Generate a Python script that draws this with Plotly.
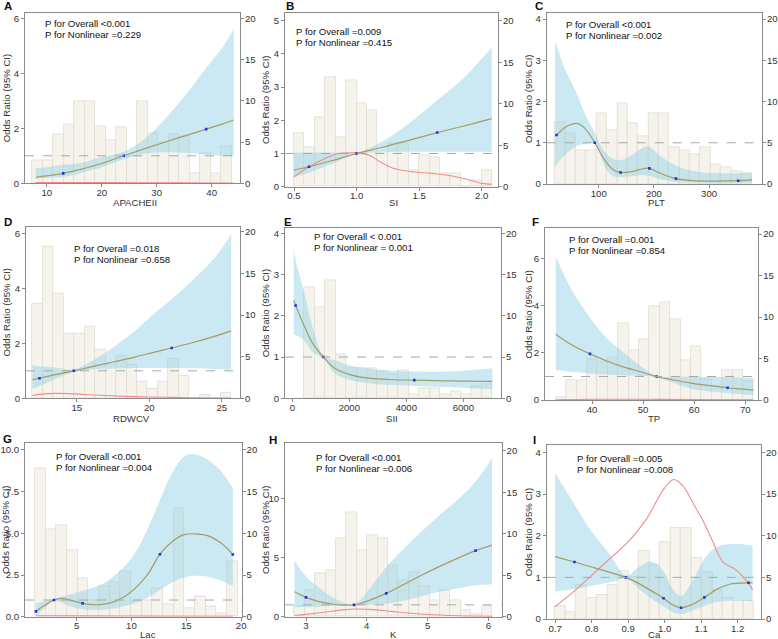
import plotly.graph_objects as go

# ======================= DATA =======================
# A: APACHEII
apache_x = [8, 10, 13, 16, 20, 24, 28, 32, 36, 39, 42, 44]
apache_or = [0.22, 0.27, 0.36, 0.5, 0.72, 1.0, 1.27, 1.53, 1.78, 1.97, 2.16, 2.3]
apache_lo = [0.16, 0.19, 0.24, 0.36, 0.58, 0.87, 1.08, 1.13, 1.1, 1.05, 1.0, 0.97]
apache_hi = [0.55, 0.58, 0.67, 0.73, 0.95, 1.15, 1.65, 2.45, 3.4, 4.2, 4.95, 5.6]
apache_red_x = [8, 14, 20, 26, 32, 38, 44]
apache_red_y = [0.03, 0.03, 0.03, 0.02, 0.02, 0.01, 0.01]
apache_pts_x = [13, 24, 39]
apache_pts_y = [0.36, 1.0, 1.97]
apache_bin_start, apache_bin_width = 7.4, 1.906
apache_counts = [2.75, 2.75, 5.9, 7.2, 9.9, 9.9, 6.9, 5.2, 6.8, 3.3, 9.9, 6.0, 5.0, 5.9, 5.7, 1.2, 3.6, 1.2, 4.5]

# B: SI
si_x = [0.5, 0.62, 0.8, 1.0, 1.2, 1.4, 1.644, 1.85, 2.08]
si_or = [0.5, 0.6, 0.78, 1.0, 1.18, 1.38, 1.63, 1.82, 2.05]
si_lo = [0.28, 0.42, 0.68, 0.99, 1.04, 1.05, 1.05, 1.05, 1.05]
si_hi = [1.03, 1.03, 1.03, 1.02, 1.35, 1.85, 2.6, 3.25, 4.2]
si_red_x = [0.5, 0.62, 0.75, 0.85, 0.95, 1.0, 1.1, 1.2, 1.3, 1.45, 1.6, 1.75, 1.9, 2.0, 2.08]
si_red_y = [0.3, 0.6, 0.85, 1.0, 1.02, 1.02, 0.95, 0.72, 0.55, 0.45, 0.4, 0.33, 0.2, 0.1, 0.07]
si_pts_x = [0.62, 1.0, 1.644]
si_pts_y = [0.6, 1.0, 1.63]
si_bin_start, si_bin_width = 0.5, 0.0833
si_counts = [6.4, 4.8, 8.4, 13.2, 6.0, 12.8, 10.0, 9.2, 4.0, 5.2, 5.2, 2.0, 3.8, 3.6, 1.6, 1.6, 0, 0.8, 2.0]

# C: PLT
plt_x = [20.7, 23.7, 40, 60, 75, 92.8, 110, 125, 139.6, 160, 180, 191.9, 210, 240, 270, 300, 352.9, 378]
plt_or = [1.17, 1.19, 1.38, 1.47, 1.35, 1.0, 0.6, 0.36, 0.28, 0.3, 0.37, 0.38, 0.27, 0.13, 0.08, 0.07, 0.08, 0.1]
plt_lo = [0.42, 0.48, 0.72, 0.92, 0.97, 0.97, 0.45, 0.2, 0.17, 0.19, 0.21, 0.2, 0.12, 0.05, 0.03, 0.02, 0.02, 0.03]
plt_hi = [3.45, 3.35, 2.75, 2.2, 1.7, 1.25, 0.8, 0.62, 0.58, 0.7, 0.88, 0.9, 0.7, 0.45, 0.32, 0.27, 0.26, 0.27]
plt_pts_x = [23.7, 92.8, 139.6, 191.9, 240, 352.9]
plt_pts_y = [1.19, 1.0, 0.28, 0.38, 0.13, 0.08]
plt_bin_start, plt_bin_width = 20.7, 18.8
plt_counts = [7.45, 6.15, 4.05, 4.05, 8.55, 6.55, 9.8, 7.35, 5.75, 8.55, 8.55, 4.5, 4.1, 3.65, 4.5, 2.45, 2.0, 1.6, 1.25]

# D: RDWCV
rdw_x = [11.94, 12.43, 13.5, 14.8, 16, 17.5, 19, 20.5, 21.55, 23, 24.5, 25.65]
rdw_or = [0.68, 0.73, 0.86, 1.0, 1.14, 1.32, 1.5, 1.7, 1.83, 2.03, 2.25, 2.45]
rdw_lo = [0.36, 0.45, 0.7, 0.96, 1.05, 1.08, 1.1, 1.1, 1.1, 1.09, 1.07, 1.05]
rdw_hi = [1.2, 1.17, 1.12, 1.05, 1.35, 1.85, 2.45, 3.15, 3.6, 4.3, 5.1, 5.97]
rdw_red_x = [11.94, 12.8, 13.5, 14.5, 15.5, 17, 19, 21, 23, 25.65]
rdw_red_y = [0.1, 0.16, 0.18, 0.17, 0.14, 0.1, 0.06, 0.04, 0.02, 0.01]
rdw_pts_x = [12.43, 14.8, 21.55]
rdw_pts_y = [0.73, 1.0, 1.83]
rdw_bin_start, rdw_bin_width = 11.94, 0.7216
rdw_counts = [11.4, 18.2, 12.5, 7.8, 7.8, 8.6, 5.8, 4.0, 5.1, 4.0, 2.0, 1.2, 2.0, 4.7, 2.7, 0, 0.4, 0, 0.7]

# E: SII
sii_x = [47, 117, 400, 700, 1088, 1500, 2000, 2500, 3000, 3600, 4281, 5500, 7018]
sii_or = [2.38, 2.25, 1.78, 1.35, 1.0, 0.72, 0.58, 0.5, 0.47, 0.45, 0.44, 0.42, 0.41]
sii_lo = [1.55, 1.53, 1.42, 1.13, 0.97, 0.6, 0.45, 0.38, 0.34, 0.32, 0.3, 0.27, 0.22]
sii_hi = [3.65, 3.35, 2.6, 1.75, 1.04, 0.92, 0.8, 0.74, 0.7, 0.67, 0.65, 0.65, 0.73]
sii_pts_x = [117, 1088, 4281]
sii_pts_y = [2.25, 1.0, 0.44]
sii_bin_start, sii_bin_width = 421, 366.5
sii_counts = [13.5, 11.0, 14.35, 5.35, 3.65, 3.65, 3.65, 3.25, 2.85, 3.35, 0.5, 1.25, 1.25, 0.5, 0.85, 0.5, 1.4, 1.65]

# F: TP
tp_x = [32.9, 36, 39.6, 43, 46, 49.5, 52.65, 56, 60, 63.5, 66.55, 69, 71.6]
tp_or = [2.8, 2.35, 1.96, 1.65, 1.42, 1.2, 1.0, 0.85, 0.7, 0.6, 0.52, 0.47, 0.42]
tp_lo = [1.28, 1.2, 1.13, 1.08, 1.05, 1.02, 0.98, 0.72, 0.45, 0.36, 0.3, 0.25, 0.2]
tp_hi = [6.1, 4.7, 3.5, 2.6, 2.05, 1.45, 1.02, 0.99, 0.99, 0.98, 0.97, 0.96, 0.95]
tp_red_x = [32.9, 40, 50, 60, 71.6]
tp_red_y = [0.01, 0.03, 0.03, 0.02, 0.01]
tp_pts_x = [39.6, 52.65, 66.55]
tp_pts_y = [1.96, 1.0, 0.52]
tp_bin_start, tp_bin_width = 32.9, 2.037
tp_counts = [0.3, 2.4, 2.4, 4.95, 4.5, 5.2, 9.25, 6.0, 7.3, 11.35, 11.75, 9.7, 4.8, 6.5, 2.5, 1.7, 3.6, 3.6, 2.3]

# G: Lac
lac_x = [1.3, 2.1, 2.94, 3.6, 4.5, 5.55, 6.5, 7.5, 8.5, 9.5, 10.5, 11.5, 12.6, 13.7, 14.8, 15.8, 17, 18.2, 19.24]
lac_or = [0.32, 0.68, 1.0, 1.1, 0.98, 0.8, 0.72, 0.75, 0.92, 1.25, 1.8, 2.55, 3.75, 4.5, 4.92, 4.97, 4.85, 4.4, 3.73]
lac_lo = [0.05, 0.5, 0.95, 0.85, 0.6, 0.45, 0.4, 0.42, 0.5, 0.65, 0.85, 1.15, 1.6, 2.05, 2.35, 2.45, 2.4, 2.15, 1.85]
lac_hi = [0.8, 0.92, 1.05, 1.2, 1.35, 1.55, 1.75, 2.0, 2.5, 3.1, 4.0, 5.3, 7.0, 8.6, 9.6, 9.75, 9.4, 8.7, 7.7]
lac_red_x = [1.3, 5, 10, 15, 19.24]
lac_red_y = [0.06, 0.05, 0.04, 0.03, 0.03]
lac_pts_x = [1.3, 2.94, 5.55, 12.6, 19.24]
lac_pts_y = [0.32, 1.0, 0.8, 3.75, 3.73]
lac_bin_start, lac_bin_width = 1.21, 0.973
lac_counts = [17.8, 10.5, 11.0, 8.0, 4.6, 2.0, 3.6, 4.1, 5.4, 1.8, 2.0, 3.4, 1.5, 13.0, 1.0, 2.4, 1.2, 0.4, 6.6]

# H: K
k_x = [2.81, 3.0, 3.2, 3.45, 3.79, 4.05, 4.32, 4.6, 4.9, 5.2, 5.5, 5.79, 6.06]
k_or = [2.1, 1.63, 1.3, 1.05, 1.0, 1.4, 1.97, 2.7, 3.5, 4.25, 4.95, 5.58, 6.05]
k_lo = [0.8, 0.82, 0.85, 0.9, 0.97, 1.02, 1.1, 1.35, 1.75, 2.1, 2.4, 2.65, 2.75]
k_hi = [4.75, 3.4, 2.5, 1.6, 1.05, 2.4, 4.2, 5.7, 7.2, 8.6, 9.9, 11.4, 13.4]
k_red_x = [2.81, 3.0, 3.3, 3.6, 3.85, 4.1, 4.4, 4.7, 5.0, 5.5, 6.06]
k_red_y = [0.1, 0.2, 0.38, 0.58, 0.65, 0.6, 0.45, 0.3, 0.18, 0.08, 0.03]
k_pts_x = [3.0, 3.79, 4.32, 5.79]
k_pts_y = [1.63, 1.0, 1.97, 5.58]
k_bin_start, k_bin_width = 2.81, 0.171
k_counts = [1.2, 3.2, 5.2, 5.6, 9.45, 12.6, 8.0, 9.8, 9.45, 6.2, 4.4, 5.35, 3.7, 2.0, 3.2, 2.0, 0.8, 0.3, 1.2]

# I: Ca
ca_x = [0.7, 0.753, 0.8, 0.85, 0.894, 0.93, 0.965, 0.997, 1.02, 1.045, 1.075, 1.109, 1.14, 1.18, 1.23, 1.241]
ca_or = [1.5, 1.37, 1.25, 1.12, 1.0, 0.85, 0.67, 0.5, 0.35, 0.27, 0.35, 0.52, 0.7, 0.84, 0.87, 0.87]
ca_lo = [0.66, 0.72, 0.8, 0.88, 0.97, 0.72, 0.48, 0.3, 0.18, 0.12, 0.2, 0.32, 0.4, 0.44, 0.43, 0.42]
ca_hi = [3.5, 2.75, 2.1, 1.55, 1.05, 1.25, 1.38, 1.15, 0.75, 0.55, 0.9, 1.45, 1.72, 1.8, 1.78, 1.75]
ca_red_x = [0.7, 0.75, 0.8, 0.85, 0.9, 0.95, 1.0, 1.025, 1.05, 1.08, 1.104, 1.13, 1.159, 1.195, 1.226, 1.241]
ca_red_y = [0.3, 0.65, 1.05, 1.45, 1.85, 2.4, 3.15, 3.35, 3.2, 2.75, 2.38, 1.9, 1.38, 1.18, 0.9, 0.7]
ca_pts_x = [0.753, 0.894, 0.997, 1.045, 1.109, 1.23]
ca_pts_y = [1.37, 1.0, 0.5, 0.27, 0.52, 0.87]
ca_bin_start, ca_bin_width = 0.7, 0.0287
ca_counts = [1.6, 0.8, 4.1, 2.5, 2.9, 4.1, 5.8, 5.0, 8.2, 6.5, 9.3, 10.9, 10.9, 7.3, 5.6, 3.5, 2.5, 2.2, 2.2]

letters = ["A", "B", "C", "D", "E", "F", "G", "H", "I"]
x_titles = ["APACHEII", "SI", "PLT", "RDWCV", "SII", "TP", "Lac", "K", "Ca"]
p_overall = ["P for Overall <0.001", "P for Overall =0.009", "P for Overall <0.001",
             "P for Overall =0.018", "P for Overall < 0.001", "P for Overall =0.001",
             "P for Overall <0.001", "P for Overall <0.001", "P for Overall =0.005"]
p_nonlinear = ["P for Nonlinear =0.229", "P for Nonlinear =0.415", "P for Nonlinear =0.002",
               "P for Nonlinear =0.658", "P for Nonlinear = 0.001", "P for Nonlinear =0.854",
               "P for Nonlinear =0.004", "P for Nonlinear =0.006", "P for Nonlinear =0.008"]
count_ticks = [0, 5, 10, 15, 20]

panels = [
    dict(x=apache_x, orv=apache_or, lo=apache_lo, hi=apache_hi, rx=apache_red_x, ry=apache_red_y,
         px=apache_pts_x, py=apache_pts_y, bs=apache_bin_start, bw=apache_bin_width, c=apache_counts),
    dict(x=si_x, orv=si_or, lo=si_lo, hi=si_hi, rx=si_red_x, ry=si_red_y,
         px=si_pts_x, py=si_pts_y, bs=si_bin_start, bw=si_bin_width, c=si_counts),
    dict(x=plt_x, orv=plt_or, lo=plt_lo, hi=plt_hi, rx=None, ry=None,
         px=plt_pts_x, py=plt_pts_y, bs=plt_bin_start, bw=plt_bin_width, c=plt_counts),
    dict(x=rdw_x, orv=rdw_or, lo=rdw_lo, hi=rdw_hi, rx=rdw_red_x, ry=rdw_red_y,
         px=rdw_pts_x, py=rdw_pts_y, bs=rdw_bin_start, bw=rdw_bin_width, c=rdw_counts),
    dict(x=sii_x, orv=sii_or, lo=sii_lo, hi=sii_hi, rx=None, ry=None,
         px=sii_pts_x, py=sii_pts_y, bs=sii_bin_start, bw=sii_bin_width, c=sii_counts),
    dict(x=tp_x, orv=tp_or, lo=tp_lo, hi=tp_hi, rx=tp_red_x, ry=tp_red_y,
         px=tp_pts_x, py=tp_pts_y, bs=tp_bin_start, bw=tp_bin_width, c=tp_counts),
    dict(x=lac_x, orv=lac_or, lo=lac_lo, hi=lac_hi, rx=lac_red_x, ry=lac_red_y,
         px=lac_pts_x, py=lac_pts_y, bs=lac_bin_start, bw=lac_bin_width, c=lac_counts),
    dict(x=k_x, orv=k_or, lo=k_lo, hi=k_hi, rx=k_red_x, ry=k_red_y,
         px=k_pts_x, py=k_pts_y, bs=k_bin_start, bw=k_bin_width, c=k_counts),
    dict(x=ca_x, orv=ca_or, lo=ca_lo, hi=ca_hi, rx=ca_red_x, ry=ca_red_y,
         px=ca_pts_x, py=ca_pts_y, bs=ca_bin_start, bw=ca_bin_width, c=ca_counts),
]

# ======================= STYLE / LAYOUT =======================
W, H = 778, 639
FONT = "Liberation Sans, Arial, sans-serif"
AXC = "#8a8a8a"
TXT = "#333333"
FS = 9.6

# plot boxes in px: left, top, right, bottom
boxes = [(25, 13.3, 240, 183.3), (285, 13.3, 498, 186.7), (546.7, 13.3, 762, 184),
         (26, 226.7, 240, 398.3), (285, 228.3, 501, 398.3), (545, 228.3, 758.3, 400),
         (25, 443.3, 241.7, 616.7), (285, 443.3, 501.7, 616.7), (546.7, 445, 761, 619)]
x_ranges = [[6.05, 45.15], [0.428, 2.13], [5.7, 396], [11.5, 26.26], [-257, 7322],
            [30.8, 72.55], [0.3, 20.05], [2.654, 6.22], [0.677, 1.264]]
x_ticks = [[10, 20, 30, 40], [0.5, 1.0, 1.5, 2.0], [100, 200, 300], [15, 20, 25],
           [0, 2000, 4000, 6000], [40, 50, 60, 70], [5, 10, 15, 20], [3, 4, 5, 6],
           [0.7, 0.8, 0.9, 1.0, 1.1, 1.2]]
x_fmt = ["", ".1f", "", "", "", "", "", "", ".1f"]
left_top = [6.18, 5.22, 4.14, 6.24, 4.12, 7.3, 10.4, 14.65, 4.18]
left_ticks = [[0, 2, 4, 6], [0, 1, 2, 3, 4, 5], [0, 1, 2, 3, 4], [0, 2, 4, 6], [0, 1, 2, 3, 4],
              [0, 2, 4, 6], [0, 2.5, 5, 7.5, 10], [0, 5, 10], [0, 1, 2, 3, 4]]
left_fmt = ["", "", "", "", "", "", ".1f", "", ""]
right_top = [20.6, 20.88, 20.7, 20.6, 20.6, 20.7, 20.8, 20.9, 20.9]
letter_pos = [(7.5, 6), (290, 6.3), (539, 6), (7.5, 222), (287.7, 222), (535, 222),
              (7.5, 439), (272.5, 439.5), (534.3, 439.5)]
ptext_pos = [(43.3, 24), (294.3, 31.7), (564, 24.3), (71.7, 248.3), (312.3, 236.7),
             (567.3, 239.3), (54.3, 456.7), (314.3, 457.3), (575, 458.3)]
ytitle_x = [6, 265, 528.3, 6, 265, 528.3, 5, 265, 528.3]
xtitle_pos = [(135, 202), (393, 202), (656.7, 202), (131.7, 418.5), (391.7, 418.5),
              (654, 418.5), (148, 634.5), (393.3, 634.5), (654, 634.5)]

fig = go.Figure()
layout = dict(width=W, height=H, margin=dict(l=0, r=0, t=0, b=0),
              paper_bgcolor="white", plot_bgcolor="white", showlegend=False,
              font=dict(family=FONT, size=FS, color=TXT), bargap=0)
annotations = []
shapes = []

for i, p in enumerate(panels):
    n = i + 1
    xa = "x" if n == 1 else f"x{n}"
    xkey = "xaxis" if n == 1 else f"xaxis{n}"
    yb = 2 * i + 1
    yl = 2 * i + 2
    ybn = "y" if yb == 1 else f"y{yb}"
    ybkey = "yaxis" if yb == 1 else f"yaxis{yb}"
    yln = f"y{yl}"
    ylkey = f"yaxis{yl}"

    centers = [p["bs"] + p["bw"] * (k + 0.5) for k in range(len(p["c"]))]
    fig.add_trace(go.Bar(x=centers, y=p["c"], width=p["bw"], xaxis=xa, yaxis=ybn,
                         marker=dict(color="#F5F3EC", line=dict(color="#E0DCCF", width=0.8)),
                         hoverinfo="skip"))
    fig.add_trace(go.Scatter(x=p["x"], y=p["lo"], mode="lines", xaxis=xa, yaxis=yln,
                             line=dict(width=0, shape="spline", color="rgba(0,0,0,0)"),
                             hoverinfo="skip"))
    fig.add_trace(go.Scatter(x=p["x"], y=p["hi"], mode="lines", xaxis=xa, yaxis=yln,
                             line=dict(width=0, shape="spline", color="rgba(0,0,0,0)"),
                             fill="tonexty", fillcolor="rgba(145,208,228,0.48)",
                             hoverinfo="skip"))
    if p["rx"] is not None:
        fig.add_trace(go.Scatter(x=p["rx"], y=p["ry"], mode="lines", xaxis=xa, yaxis=yln,
                                 line=dict(width=1.1, shape="spline", color="#F28C8C")))
    fig.add_trace(go.Scatter(x=p["x"], y=p["orv"], mode="lines", xaxis=xa, yaxis=yln,
                             line=dict(width=1.2, shape="spline", color="#A69C66")))
    fig.add_trace(go.Scatter(x=p["px"], y=p["py"], mode="markers", xaxis=xa, yaxis=yln,
                             marker=dict(symbol="square", size=2.6, color="#2035E0")))

    L, T, R, B = boxes[i]
    common = dict(showgrid=False, zeroline=False, showline=True, linecolor=AXC, linewidth=1,
                  ticks="outside", ticklen=3, tickcolor=AXC, tickwidth=1, automargin=False,
                  tickfont=dict(size=FS, color=TXT, family=FONT))
    layout[xkey] = dict(common, domain=[L / W, R / W], range=x_ranges[i], anchor=ybn,
                        tickmode="array", tickvals=x_ticks[i], tickformat=x_fmt[i], mirror=True,
                        ticklabelstandoff=-3)
    layout[ybkey] = dict(common, domain=[1 - B / H, 1 - T / H], range=[0, right_top[i]],
                         anchor=xa, side="right", tickmode="array", tickvals=count_ticks,
                         ticklabelstandoff=-1)
    layout[ylkey] = dict(common, overlaying=ybn, anchor=xa, side="left",
                         range=[0, left_top[i]], tickmode="array", tickvals=left_ticks[i],
                         tickformat=left_fmt[i])

    shapes.append(dict(type="line", xref=f"{xa} domain", x0=0, x1=1, yref=yln, y0=1, y1=1,
                       line=dict(color="#A8A8A8", width=1, dash="dash"), layer="above"))

    lx, ly = letter_pos[i]
    annotations.append(dict(text=f"<b>{letters[i]}</b>", x=lx / W, y=1 - ly / H, xref="paper",
                            yref="paper", showarrow=False, xanchor="center", yanchor="middle",
                            font=dict(size=11.5, color="#111111", family=FONT)))
    tx, ty = ptext_pos[i]
    annotations.append(dict(text=p_overall[i], x=tx / W, y=1 - ty / H, xref="paper", yref="paper",
                            showarrow=False, xanchor="left", yanchor="middle",
                            font=dict(size=FS, color="#111111", family=FONT)))
    annotations.append(dict(text=p_nonlinear[i], x=tx / W, y=1 - (ty + 10.7) / H, xref="paper",
                            yref="paper", showarrow=False, xanchor="left", yanchor="middle",
                            font=dict(size=FS, color="#111111", family=FONT)))
    xtx, xty = xtitle_pos[i]
    annotations.append(dict(text=x_titles[i], x=xtx / W, y=1 - xty / H,
                            xref="paper", yref="paper", showarrow=False, xanchor="center",
                            yanchor="middle", font=dict(size=FS, color=TXT, family=FONT)))
    annotations.append(dict(text="Odds Ratio (95% CI)", x=ytitle_x[i] / W, y=1 - (T + B) / 2 / H,
                            xref="paper", yref="paper", showarrow=False, textangle=-90,
                            xanchor="center", yanchor="middle",
                            font=dict(size=FS, color=TXT, family=FONT)))

layout["annotations"] = annotations
layout["shapes"] = shapes
fig.update_layout(**layout)
fig.write_html("out.html")
